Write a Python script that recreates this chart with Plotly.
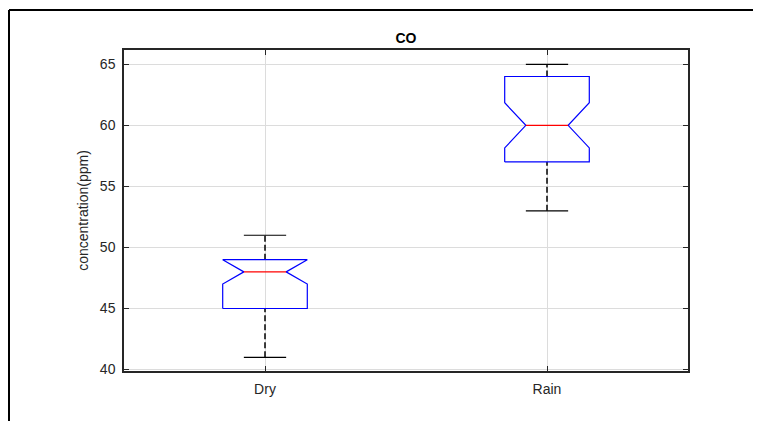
import plotly.graph_objects as go

# ---- data ----
categories = ["Dry", "Rain"]
lower_whisker = [41, 53]
q1 = [45, 57]
notch_low = [47, 58.15]
median = [48, 60]
notch_high = [49, 61.85]
q3 = [49, 64]
upper_whisker = [51, 65]

y_ticks = [40, 45, 50, 55, 60, 65]

BOX_HALF = 0.15   # box half-width in category units
NOTCH_HALF = 0.075
CAP_HALF = 0.075

fig = go.Figure()

for i, cat in enumerate(categories):
    x = i + 1
    # whiskers (dashed black)
    for a, b in ((lower_whisker[i], q1[i]), (q3[i], upper_whisker[i])):
        fig.add_trace(go.Scatter(
            x=[x, x], y=[a, b], mode="lines",
            line=dict(color="black", width=1.5, dash="6px,3px"),
            hoverinfo="skip", showlegend=False))
    # caps
    for v in (lower_whisker[i], upper_whisker[i]):
        fig.add_trace(go.Scatter(
            x=[x - CAP_HALF, x + CAP_HALF], y=[v, v], mode="lines",
            line=dict(color="black", width=1.2),
            hoverinfo="skip", showlegend=False))
    # notched box outline (blue)
    bx = [x - BOX_HALF, x - BOX_HALF, x - NOTCH_HALF, x - BOX_HALF, x - BOX_HALF,
          x + BOX_HALF, x + BOX_HALF, x + NOTCH_HALF, x + BOX_HALF, x + BOX_HALF,
          x - BOX_HALF]
    by = [q1[i], notch_low[i], median[i], notch_high[i], q3[i],
          q3[i], notch_high[i], median[i], notch_low[i], q1[i],
          q1[i]]
    fig.add_trace(go.Scatter(
        x=bx, y=by, mode="lines",
        line=dict(color="#0000FF", width=1.2),
        hoverinfo="skip", showlegend=False))
    # median (red)
    fig.add_trace(go.Scatter(
        x=[x - NOTCH_HALF, x + NOTCH_HALF], y=[median[i], median[i]], mode="lines",
        line=dict(color="#FF0000", width=1.2),
        hoverinfo="skip", showlegend=False))

FONT = "Liberation Sans, Arial, sans-serif"

axis_common = dict(
    showline=True, linecolor="#262626", linewidth=1.5, mirror="allticks",
    ticks="inside", ticklen=5, tickcolor="#262626", tickwidth=1.2,
    showgrid=True, gridcolor="#DCDCDC", gridwidth=1,
    zeroline=False,
    tickfont=dict(family=FONT, size=14, color="#262626"),
    ticklabelstandoff=4,
)

OFF = 8  # page body margin
L, R, T, B = 124, 688, 50, 371  # plot-area edges in page pixels

fig.update_layout(
    width=761, height=421,
    margin=dict(l=L - OFF, r=761 - (R - OFF), t=T - OFF, b=421 - (B - OFF)),
    paper_bgcolor="white", plot_bgcolor="white",
    title=dict(text="<b>CO</b>", x=((L + R) / 2 - OFF) / 761, xanchor="center",
               y=1 - (38 - OFF) / 421, yanchor="middle",
               font=dict(family=FONT, size=14, color="black")),
    xaxis=dict(range=[0.5, 2.5], tickmode="array",
               tickvals=[1, 2], ticktext=categories, **axis_common),
    yaxis=dict(range=[39.88, 66.17], tickmode="array", tickvals=y_ticks,
               title=dict(text="concentration(ppm)", standoff=8,
                          font=dict(family=FONT, size=14, color="#262626")),
               **axis_common),
    shapes=[
        dict(type="line", xref="paper", yref="paper",
             x0=(9 - L) / (R - L), x1=1.3, y0=(B - 10) / (B - T), y1=(B - 10) / (B - T),
             line=dict(color="black", width=2)),
        dict(type="line", xref="paper", yref="paper",
             x0=(9 - L) / (R - L), x1=(9 - L) / (R - L), y0=(B - 10) / (B - T), y1=-0.3,
             line=dict(color="black", width=2)),
    ],
)

fig.write_html("out.html")
